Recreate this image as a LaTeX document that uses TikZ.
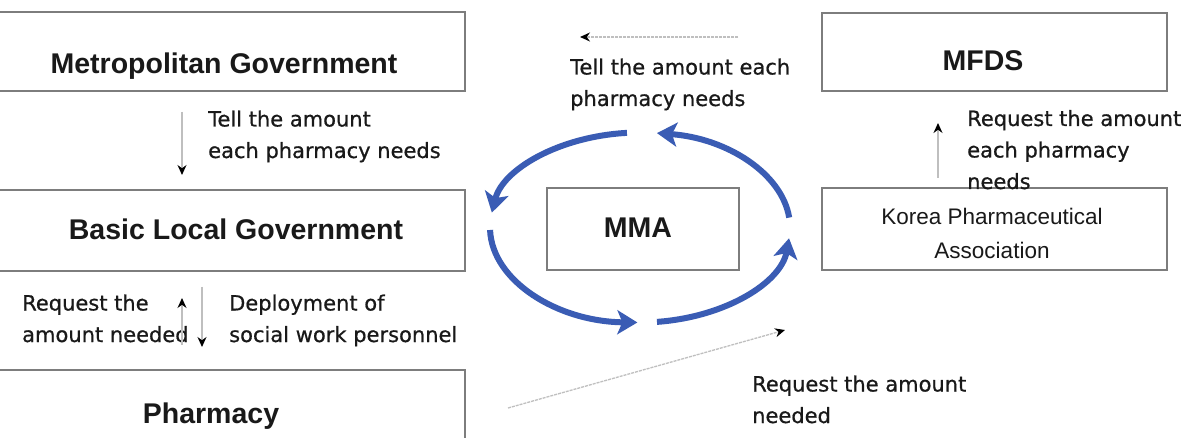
\documentclass[tikz,border=0pt]{standalone}
\usepackage{fontspec}
\setmainfont{DejaVu Sans}
\newfontfamily\ttlfont{Liberation Sans}
\newfontfamily\lblfont{DejaVu Sans}[FakeBold=0.7]
\usetikzlibrary{arrows.meta,calc}
\definecolor{cycblue}{RGB}{58,92,180}
\definecolor{boxgray}{RGB}{125,125,125}
\definecolor{txt}{RGB}{25,25,25}
\begin{document}
\begin{tikzpicture}[x=1pt,y=-1pt,
  box/.style={draw=boxgray, line width=2pt, fill=white, outer sep=0pt, inner sep=0pt, anchor=north west},
  ttl/.style={font=\ttlfont\bfseries\fontsize{28.5}{34}\selectfont, text=txt, inner sep=0pt, anchor=base},
  kpa/.style={font=\ttlfont\fontsize{22.5}{34}\selectfont, text=txt, inner sep=0pt, anchor=base, align=center},
  lbl/.style={font=\lblfont\fontsize{21}{31.5}\selectfont, text=txt, align=left, inner sep=0pt, anchor=base west},
  conn/.style={draw=gray!50, line width=1.3pt, -{Stealth[color=black,length=10pt,width=9pt]}},
  dconn/.style={conn, dash pattern=on 3pt off 1pt},
  cyc/.style={draw=cycblue, line width=6pt, -{Stealth[length=20pt,width=24pt,inset=5pt]}}
]
\useasboundingbox (0,0) rectangle (1189,438);
\fill[white] (0,0) rectangle (1189,438);

% boxes
\node[box, minimum width=470pt, minimum height=79pt] (metro) at (-5,12) {};
\node[box, minimum width=470pt, minimum height=81pt] (basic) at (-5,190) {};
\node[box, minimum width=470pt, minimum height=80pt] (pharm) at (-5,370) {};
\node[box, minimum width=192pt, minimum height=82pt] (mma) at (547,188) {};
\node[box, minimum width=345pt, minimum height=78pt] (mfds) at (822,13) {};
\node[box, minimum width=345pt, minimum height=82pt] (kpa) at (822,188) {};

% titles (multi-line nodes: base = last line)
\node[ttl] (tmetro) at (224,74) {Metropolitan Government};
\node[ttl] (tbasic) at (236,240) {Basic Local Government};
\node[ttl] (tpharm) at (211,423) {Pharmacy};
\node[ttl] (tmma) at (638,238) {MMA};
\node[ttl] (tmfds) at (983,71) {MFDS};
\node[kpa] (tkpa) at (992,259) {Korea Pharmaceutical\\Association};

% labels
\node[lbl] (l1) at (208,158) {Tell the amount\\each pharmacy needs};
\node[lbl] (l2) at (22,342) {Request the\\amount needed};
\node[lbl] (l3) at (229,342) {Deployment of\\social work personnel};
\node[lbl] (l4) at (570,106) {Tell the amount each\\pharmacy needs};
\node[lbl] (l5) at (967,189) {Request the amount\\each pharmacy\\needs};
\node[lbl] (l6) at (752,423) {Request the amount\\needed};

% gray connectors
\coordinate (xa) at (182,0);
\coordinate (xb) at (202,0);
\coordinate (xc) at (938,0);
\draw[conn, shorten <=21pt, shorten >=15pt] (metro.south -| xa) -- (basic.north -| xa);
\draw[conn, shorten <=25pt, shorten >=27pt] (pharm.north -| xa) -- (basic.south -| xa);
\draw[conn, shorten <=16pt, shorten >=23pt] (basic.south -| xb) -- (pharm.north -| xb);
\draw[conn, shorten <=10pt, shorten >=32pt] (kpa.north -| xc) -- (mfds.south -| xc);
\coordinate (t1) at (738,37);
\coordinate (t2) at (580,37);
\draw[dconn] (t1) -- (t2);
\coordinate (b1) at (508,408);
\coordinate (b2) at (785,330);
\draw[dconn] (b1) -- (b2);

% blue cycle around MMA
\coordinate (cc) at (640,227.5);
\draw[cyc] ([shift={(-6:150 and 95)}]cc) arc[start angle=-6, end angle=-83.5, x radius=150, y radius=95];
\draw[cyc] ([shift={(-95:150 and 95)}]cc) arc[start angle=-95, end angle=-171, x radius=150, y radius=95];
\draw[cyc] ([shift={(-181.5:150 and 95)}]cc) arc[start angle=-181.5, end angle=-269, x radius=150, y radius=95];
\draw[cyc] ([shift={(-276.5:150 and 95)}]cc) arc[start angle=-276.5, end angle=-353.5, x radius=150, y radius=95];
\end{tikzpicture}
\end{document}
